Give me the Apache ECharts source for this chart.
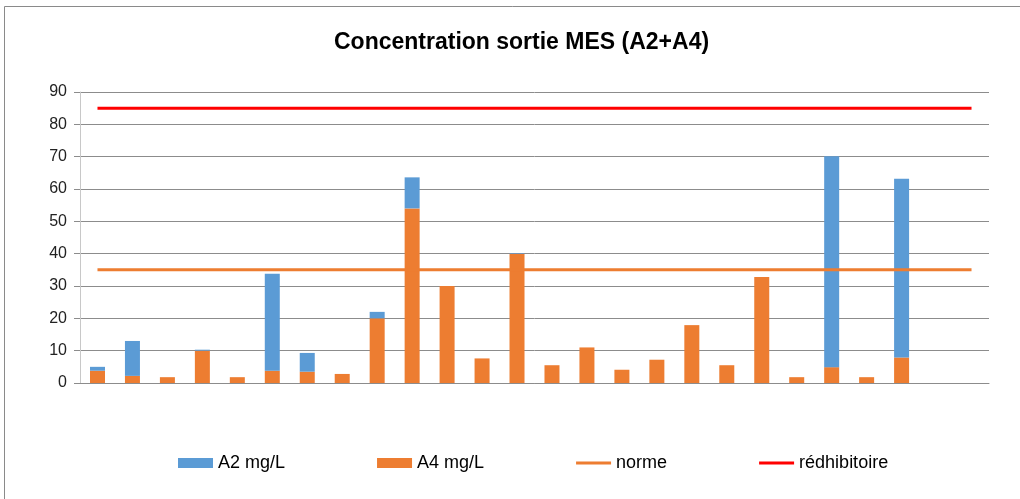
<!DOCTYPE html>
<html>
<head>
<meta charset="utf-8">
<script src="https://cdn.jsdelivr.net/npm/echarts@6/dist/echarts.min.js"></script>
<style>
html,body{margin:0;padding:0;background:#fff;}
#chart{width:1020px;height:499px;}
</style>
</head>
<body>
<div id="chart"></div>
<script>
const titleText = 'Concentration sortie MES (A2+A4)';
const categories = ['1','2','3','4','5','6','7','8','9','10','11','12','13','14','15','16','17','18','19','20','21','22','23','24','25','26'];
const a2Values = [1.2, 10.8, 0, 0.3, 0, 30.0, 5.8, 0, 2.0, 9.6, 0, 0, 0.2, 0, 0, 0, 0, 0, 0, 0, 0, 65.2, 0, 55.3, null, null];
const a4Values = [3.8, 2.2, 1.8, 10.0, 1.8, 3.8, 3.5, 2.8, 20.0, 54.0, 30.0, 7.6, 40.0, 5.5, 11.0, 4.1, 7.2, 17.9, 5.5, 32.8, 1.8, 4.9, 1.8, 7.9, null, null];
const normeValues = [35,35,35,35,35,35,35,35,35,35,35,35,35,35,35,35,35,35,35,35,35,35,35,35,35,35];
const redhibValues = [85,85,85,85,85,85,85,85,85,85,85,85,85,85,85,85,85,85,85,85,85,85,85,85,85,85];
const yTicks = {min: 0, max: 90, interval: 10};
const seriesNames = ['A2 mg/L', 'A4 mg/L', 'norme', 'rédhibitoire'];

const chart = echarts.init(document.getElementById('chart'), null, {renderer: 'canvas'});
const font = 'Liberation Sans, Arial, sans-serif';
const lineIcon = 'path://M0,0L38,0L38,3L0,3Z';
chart.setOption({
  animation: false,
  backgroundColor: '#fff',
  textStyle: {fontFamily: font},
  title: {
    text: titleText,
    left: 329, top: 26,
    textStyle: {fontSize: 23, fontWeight: 'bold', color: '#000', fontFamily: font}
  },
  graphic: [{
    type: 'rect', silent: true,
    shape: {x: 4.5, y: 6.5, width: 1100, height: 600},
    style: {fill: 'none', stroke: '#8a8a8a', lineWidth: 1}
  }],
  legend: {
    data: [
      {name: seriesNames[0], icon: 'rect'},
      {name: seriesNames[1], icon: 'rect'},
      {name: seriesNames[2], icon: lineIcon},
      {name: seriesNames[3], icon: lineIcon}
    ],
    left: 173, top: 449,
    itemWidth: 35, itemHeight: 10, itemGap: 92,
    symbolKeepAspect: true,
    textStyle: {fontSize: 18, color: '#000', fontFamily: font}
  },
  grid: {left: 80, right: 31, top: 92, bottom: 116, containLabel: false},
  xAxis: {
    type: 'category',
    data: categories,
    boundaryGap: true,
    axisLine: {show: true, lineStyle: {color: '#8c8c8c', width: 1}},
    axisTick: {show: false},
    axisLabel: {show: false}
  },
  yAxis: {
    type: 'value',
    min: yTicks.min, max: yTicks.max, interval: yTicks.interval,
    axisLine: {show: true, lineStyle: {color: '#c8c8c8', width: 1}},
    axisTick: {show: true, length: 6, inside: false, lineStyle: {color: '#8c8c8c'}},
    axisLabel: {fontSize: 16, color: '#222', margin: 13, fontFamily: font},
    splitLine: {show: true, lineStyle: {color: '#8c8c8c', width: 1}}
  },
  series: [
    {
      name: seriesNames[1], type: 'bar', stack: 'mes', data: a4Values,
      barWidth: 15, itemStyle: {color: '#ED7D31'}, z: 2
    },
    {
      name: seriesNames[0], type: 'bar', stack: 'mes', data: a2Values,
      barWidth: 15, itemStyle: {color: '#5B9BD5'}, z: 2
    },
    {
      name: seriesNames[2], type: 'line', data: normeValues,
      symbol: 'none', showSymbol: false,
      lineStyle: {color: '#ED7D31', width: 3}, itemStyle: {color: '#ED7D31'}, z: 5
    },
    {
      name: seriesNames[3], type: 'line', data: redhibValues,
      symbol: 'none', showSymbol: false,
      lineStyle: {color: '#FF0000', width: 3}, itemStyle: {color: '#FF0000'}, z: 5
    }
  ]
});
</script>
</body>
</html>
